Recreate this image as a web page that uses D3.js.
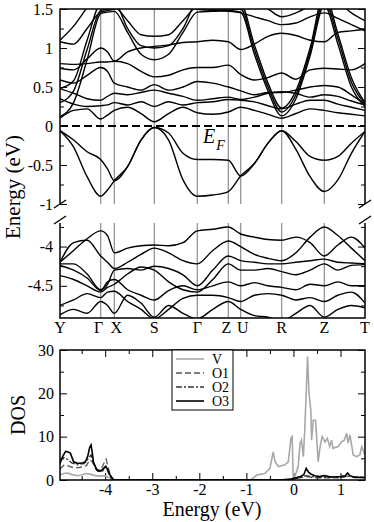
<!DOCTYPE html>
<html>
<head>
<meta charset="utf-8">
<script src="https://cdn.jsdelivr.net/npm/d3@7"></script>
<style>
body { margin: 0; background: #fff; }
svg { display: block; }
svg text { font-family: "Liberation Serif", "Times New Roman", Times, serif; }
</style>
</head>
<body>
<div id="chart"></div>
<script>
const width = 374, height = 522;

// k path (distance along path) and high-symmetry labels
const kLabels = ["Y", "Γ", "X", "S", "Γ", "Z", "U", "R", "Z", "T"];
const kTicks = [0, 40.7, 54.3, 94.3, 137.3, 168.3, 180.7, 221.7, 264.3, 305];
const kGrid = [0, 13.6, 27.1, 40.7, 47.5, 54.3, 67.6, 81.0, 94.3, 108.6, 123.0, 137.3,
               152.8, 168.3, 180.7, 194.4, 208.0, 221.7, 235.9, 250.1, 264.3, 277.9, 291.4, 305.0];

// bands near E_F (eV), one value per kGrid point
const vb1 = [-0.06,-0.18,-0.33,-0.43,-0.55,-0.70,-0.52,-0.18,-0.02,-0.09,-0.35,-0.43,-0.43,-0.44,-0.64,-0.48,-0.22,-0.06,-0.20,-0.39,-0.44,-0.39,-0.22,-0.07];
const vb2 = [-0.06,-0.27,-0.65,-0.90,-0.82,-0.70,-0.52,-0.18,-0.02,-0.18,-0.69,-0.90,-0.885,-0.84,-0.64,-0.48,-0.22,-0.06,-0.30,-0.65,-0.84,-0.69,-0.35,-0.07];
const cb1 = [0.10,0.20,0.22,0.09,0.14,0.20,0.24,0.16,0.055,0.16,0.24,0.17,0.15,0.18,0.24,0.20,0.15,0.10,0.16,0.22,0.20,0.17,0.15,0.13];
const cb2 = [0.35,0.28,0.25,0.26,0.27,0.30,0.27,0.31,0.25,0.31,0.27,0.30,0.31,0.34,0.33,0.31,0.26,0.22,0.28,0.33,0.33,0.28,0.24,0.20];
const cb3 = [0.48,0.42,0.35,0.33,0.38,0.42,0.40,0.43,0.46,0.42,0.38,0.33,0.35,0.37,0.34,0.37,0.42,0.44,0.42,0.37,0.40,0.38,0.32,0.27];
const cb4 = [0.59,0.55,0.65,0.75,0.70,0.55,0.50,0.46,0.53,0.46,0.50,0.57,0.55,0.50,0.45,0.40,0.43,0.43,0.46,0.50,0.52,0.50,0.40,0.28];
const cb5 = [0.80,0.79,0.80,0.82,0.82,0.83,0.80,0.70,0.63,0.65,0.72,0.75,0.75,0.78,0.66,0.59,0.62,0.68,0.60,0.72,0.74,0.73,0.72,0.80];
const cb6 = [0.74,0.72,0.86,1.00,0.95,0.83,0.95,1.00,1.02,1.04,1.07,1.08,1.10,1.08,0.98,1.05,1.15,1.19,1.16,1.10,1.08,1.20,1.22,1.24];
const cb7 = [0.12,0.30,0.85,1.44,1.46,1.47,1.20,0.92,0.85,0.92,1.20,1.46,1.47,1.48,1.46,0.92,0.45,0.13,0.35,0.90,1.55,1.05,0.50,0.25];
const cb8 = [0.30,0.45,0.98,1.48,1.50,1.52,1.35,1.17,1.15,1.17,1.35,1.52,1.50,1.50,1.50,0.98,0.50,0.18,0.40,0.95,1.62,1.12,0.56,0.28];
const cb9 = [0.48,0.58,1.10,1.56,1.56,1.58,1.25,1.03,1.00,1.03,1.25,1.58,1.56,1.56,1.56,1.04,0.55,0.23,0.45,1.00,1.70,1.18,0.62,0.30];
const cb10 = [1.10,1.28,1.52,1.75,1.72,1.70,1.65,1.60,1.58,1.60,1.65,1.70,1.70,1.70,1.68,1.60,1.50,1.40,1.45,1.55,1.75,1.60,1.45,1.35];
const cb11 = [1.08,1.05,1.25,1.46,1.48,1.50,1.55,1.58,1.60,1.58,1.55,1.50,1.48,1.47,1.45,1.40,1.35,1.30,1.32,1.40,1.45,1.38,1.30,1.22];
const upperBands = [vb1, vb2, cb1, cb2, cb3, cb4, cb5, cb6, cb7, cb8, cb9, cb10, cb11];

// deeper bands (eV)
const lb1 = [-4.20,-4.05,-3.90,-3.80,-3.86,-4.08,-4.02,-3.99,-3.98,-3.99,-3.95,-3.80,-3.78,-3.75,-3.84,-3.88,-3.91,-3.92,-3.88,-3.95,-4.12,-3.98,-3.88,-4.02];
const lb2 = [-4.20,-3.95,-3.92,-4.12,-4.20,-4.28,-4.20,-4.10,-4.02,-4.08,-4.18,-4.22,-4.05,-3.93,-4.00,-4.10,-4.15,-4.18,-4.08,-3.88,-3.75,-3.86,-4.02,-4.18];
const lb3 = [-4.22,-4.22,-4.35,-4.55,-4.48,-4.30,-4.28,-4.30,-4.25,-4.28,-4.36,-4.50,-4.30,-4.12,-4.18,-4.20,-4.22,-4.22,-4.20,-4.18,-4.16,-4.20,-4.21,-4.22];
const lb4 = [-4.37,-4.42,-4.50,-4.58,-4.52,-4.48,-4.35,-4.26,-4.30,-4.45,-4.55,-4.58,-4.42,-4.22,-4.30,-4.30,-4.28,-4.32,-4.36,-4.30,-4.22,-4.30,-4.24,-4.23];
const lb5 = [-4.24,-4.30,-4.40,-4.56,-4.45,-4.42,-4.55,-4.62,-4.68,-4.56,-4.50,-4.55,-4.50,-4.45,-4.50,-4.46,-4.50,-4.52,-4.55,-4.48,-4.50,-4.45,-4.50,-4.50];
const lb6 = [-4.75,-4.68,-4.60,-4.65,-4.58,-4.57,-4.70,-4.80,-4.92,-4.80,-4.66,-4.62,-4.62,-4.65,-4.70,-4.62,-4.60,-4.62,-4.68,-4.65,-4.70,-4.62,-4.58,-4.72];
const lb7 = [-4.87,-4.80,-4.85,-4.70,-4.75,-4.85,-4.62,-4.72,-4.90,-4.75,-4.85,-4.92,-4.80,-4.70,-4.80,-4.88,-4.90,-4.95,-4.85,-4.75,-4.90,-4.80,-4.75,-4.78];
const lowerBands = [lb1, lb2, lb3, lb4, lb5, lb6, lb7];

// projected DOS, [energy (eV), states]
const dosV = [[-4.96,1.2],[-4.88,1.5],[-4.8,1.6],[-4.72,1.3],[-4.6,1.0],[-4.5,1.2],[-4.4,1.5],[-4.3,1.3],[-4.2,1.0],[-4.1,0.9],[-4.0,1.0],[-3.92,0.6],[-3.85,0.1],[-3.8,0],
  [-0.92,0],[-0.85,0.5],[-0.78,1.15],[-0.61,1.5],[-0.5,2.7],[-0.43,6.5],[-0.39,4.2],[-0.32,3.1],[-0.18,3.5],[-0.11,4.2],[-0.054,9.6],[-0.027,10],[-0.005,0.3],
  [0.03,0.8],[0.1,3.1],[0.14,8.5],[0.17,9.2],[0.21,5.4],[0.24,11.5],[0.3,28.5],[0.33,20],[0.37,16],[0.385,9.2],[0.42,13.8],[0.47,13.8],[0.525,4.2],[0.56,7.3],
  [0.61,10],[0.67,8.8],[0.72,9.6],[0.77,7.7],[0.81,9.2],[0.84,7.3],[0.95,7.7],[1.02,8.8],[1.08,9.2],[1.13,10.8],[1.16,8.5],[1.2,10.4],[1.27,5.8],[1.34,5.4],
  [1.41,5.8],[1.45,7.7],[1.52,5.8]];
const dosO1 = [[-4.96,2.5],[-4.88,3.4],[-4.8,3.3],[-4.72,3.0],[-4.6,2.8],[-4.5,3.0],[-4.4,3.3],[-4.33,4.6],[-4.28,4.3],[-4.2,2.6],[-4.1,2.2],[-4.03,3.8],[-3.98,4.8],
  [-3.93,2.6],[-3.86,0.3],[-3.8,0],[-0.3,0],[0,0.2],[0.27,0.8],[0.5,0.5],[1.0,0.5],[1.15,0.9],[1.52,0.5]];
const dosO2 = [[-4.96,4.4],[-4.88,5.2],[-4.8,4.8],[-4.72,4.0],[-4.6,3.5],[-4.45,3.8],[-4.35,5.0],[-4.3,5.8],[-4.25,3.8],[-4.15,2.0],[-4.05,2.1],[-3.99,3.4],
  [-3.93,1.6],[-3.85,0.1],[-3.8,0],[-0.3,0],[0,0.2],[0.27,1.0],[0.5,0.6],[1.0,0.6],[1.15,0.9],[1.52,0.5]];
const dosO3 = [[-4.96,3.8],[-4.9,5.5],[-4.84,6.6],[-4.8,6.5],[-4.74,6.2],[-4.67,4.2],[-4.6,3.9],[-4.53,3.85],[-4.47,4.0],[-4.42,4.2],[-4.37,5.5],[-4.33,7.5],
  [-4.3,8.1],[-4.27,6.0],[-4.25,4.2],[-4.18,2.3],[-4.12,2.0],[-4.07,2.3],[-4.0,3.1],[-3.95,2.5],[-3.9,1.2],[-3.82,0],[-0.3,0],[-0.05,0.2],[0.05,0.5],[0.15,0.8],
  [0.22,1.2],[0.27,2.7],[0.32,1.8],[0.37,1.4],[0.45,1.0],[0.55,0.8],[0.65,1.0],[0.8,0.7],[1.0,0.8],[1.1,1.0],[1.15,1.6],[1.2,1.0],[1.3,0.6],[1.52,0.6]];
const dosNames = ["V", "O1", "O2", "O3"];
const dosSeries = [dosV, dosO1, dosO2, dosO3];

const svg = d3.select("#chart").append("svg")
    .attr("width", width)
    .attr("height", height)
    .attr("viewBox", [0, 0, width, height]);

// scales
const x = d3.scaleLinear().domain([0, 305]).range([60, 365]);
const yUp = d3.scaleLinear().domain([-1, 1.5]).range([204, 9]);
const yLo = d3.scaleLinear().domain([-4.91, -3.70]).range([318, 223]);
const xD = d3.scaleLinear().domain([-4.96, 1.52]).range([60, 365]);
const yD = d3.scaleLinear().domain([0, 30]).range([480, 350]);

// clip rects for the panels
const defs = svg.append("defs");
defs.append("clipPath").attr("id", "clipUp").append("rect")
    .attr("x", 60).attr("y", 9).attr("width", 305).attr("height", 195);
defs.append("clipPath").attr("id", "clipLo").append("rect")
    .attr("x", 60).attr("y", 223).attr("width", 305).attr("height", 95);
defs.append("clipPath").attr("id", "clipD").append("rect")
    .attr("x", 60).attr("y", 350).attr("width", 305).attr("height", 130);

function tickAxis(g, axis, size, vals, labels, pad) {
    g.call(axis.tickValues(vals).tickSize(size).tickPadding(pad || 6)
        .tickFormat(labels ? d => String(d) : ""));
    g.select(".domain").remove();
    g.attr("font-family", null);
    g.selectAll(".tick line").attr("stroke", "#000").attr("stroke-width", 1);
    g.selectAll("text").attr("font-size", 16).attr("fill", "#000");
}

// ---- band panels ----
function bandPanel(y, bands, clipId, major, minor, top, bottom) {
    const g = svg.append("g");
    // high symmetry lines
    g.append("g").selectAll("line")
        .data(kTicks.slice(1, -1))
        .join("line")
        .attr("x1", d => x(d)).attr("x2", d => x(d))
        .attr("y1", top).attr("y2", bottom)
        .attr("stroke", "#8c8c8c").attr("stroke-width", 1.2);

    const line = d3.line()
        .x((d, i) => x(kGrid[i]))
        .y(d => y(d))
        .curve(d3.curveMonotoneX);
    g.append("g").attr("clip-path", `url(#${clipId})`)
        .selectAll("path")
        .data(bands)
        .join("path")
        .attr("d", line)
        .attr("fill", "none")
        .attr("stroke", "#000")
        .attr("stroke-width", 1.4);

    tickAxis(g.append("g").attr("transform", "translate(60,0)"), d3.axisLeft(y), -7, major, true, 7);
    tickAxis(g.append("g").attr("transform", "translate(60,0)"), d3.axisLeft(y), -4, minor, false);
    tickAxis(g.append("g").attr("transform", "translate(365,0)"), d3.axisRight(y), -7, major, false);
    tickAxis(g.append("g").attr("transform", "translate(365,0)"), d3.axisRight(y), -4, minor, false);
    return g;
}

const up = bandPanel(yUp, upperBands, "clipUp", [-1, -0.5, 0, 0.5, 1, 1.5], [-0.75, -0.25, 0.25, 0.75, 1.25], 9, 204);
const lo = bandPanel(yLo, lowerBands, "clipLo", [-4.5, -4], [-4.75, -4.25, -3.75], 223, 318);

// Fermi level
up.append("line")
    .attr("x1", 60).attr("x2", 365)
    .attr("y1", yUp(0)).attr("y2", yUp(0))
    .attr("stroke", "#000").attr("stroke-width", 2)
    .attr("stroke-dasharray", "8,4");
const ef = up.append("text").attr("x", 203).attr("y", 143)
    .attr("font-size", 20).attr("font-style", "italic").text("E");
ef.append("tspan").attr("dx", 1).attr("dy", 7).attr("font-size", 14).text("F");

// frames
svg.append("path")
    .attr("d", `M60,204V9H365V204M60,223V318H365V223`)
    .attr("fill", "none").attr("stroke", "#000").attr("stroke-width", 1.5);

// axis break marks
svg.append("g").selectAll("line")
    .data([[60, 204], [60, 220], [365, 204], [365, 220]])
    .join("line")
    .attr("x1", d => d[0] - 6).attr("y1", d => d[1] + 4)
    .attr("x2", d => d[0] + 6).attr("y2", d => d[1] - 4)
    .attr("stroke", "#000").attr("stroke-width", 1.3);

// k labels
svg.append("g").selectAll("text")
    .data(kTicks)
    .join("text")
    .attr("x", d => x(d) + (d === 40.7 || d === 168.3 ? -2 : d === 54.3 || d === 180.7 ? 2 : 0))
    .attr("y", 333)
    .attr("text-anchor", "middle")
    .attr("font-size", 16)
    .text((d, i) => kLabels[i]);

svg.append("text")
    .attr("transform", "translate(20,187) rotate(-90)")
    .attr("text-anchor", "middle")
    .attr("font-size", 21)
    .text("Energy (eV)");

// ---- DOS panel ----
const gd = svg.append("g");
const xMajor = [-4, -3, -2, -1, 0, 1], xMinor = [-4.5, -3.5, -2.5, -1.5, -0.5, 0.5];
tickAxis(gd.append("g").attr("transform", "translate(0,480)"), d3.axisBottom(xD), -7, xMajor, true, 4);
tickAxis(gd.append("g").attr("transform", "translate(0,480)"), d3.axisBottom(xD), -4, xMinor, false);
tickAxis(gd.append("g").attr("transform", "translate(0,350)"), d3.axisTop(xD), -7, xMajor, false);
tickAxis(gd.append("g").attr("transform", "translate(0,350)"), d3.axisTop(xD), -4, xMinor, false);
tickAxis(gd.append("g").attr("transform", "translate(60,0)"), d3.axisLeft(yD), -7, [0, 10, 20, 30], true, 6);
tickAxis(gd.append("g").attr("transform", "translate(60,0)"), d3.axisLeft(yD), -4, [5, 15, 25], false);
tickAxis(gd.append("g").attr("transform", "translate(365,0)"), d3.axisRight(yD), -7, [0, 10, 20, 30], false);
tickAxis(gd.append("g").attr("transform", "translate(365,0)"), d3.axisRight(yD), -4, [5, 15, 25], false);

const dosStyle = [
    {color: "#a8a8a8", dash: null, w: 1.6},
    {color: "#555", dash: "6,3", w: 1.3},
    {color: "#333", dash: "6,2,2,2", w: 1.3},
    {color: "#000", dash: null, w: 1.6}
];
const dline = d3.line().x(d => xD(d[0])).y(d => yD(d[1]));
gd.append("g").attr("clip-path", "url(#clipD)")
    .selectAll("path")
    .data(dosSeries)
    .join("path")
    .attr("d", dline)
    .attr("fill", "none")
    .attr("stroke", (d, i) => dosStyle[i].color)
    .attr("stroke-width", (d, i) => dosStyle[i].w)
    .attr("stroke-dasharray", (d, i) => dosStyle[i].dash);

gd.append("rect")
    .attr("x", 60).attr("y", 350).attr("width", 305).attr("height", 130)
    .attr("fill", "none").attr("stroke", "#000").attr("stroke-width", 1.5);

// legend
const leg = gd.append("g");
leg.append("rect")
    .attr("x", 172).attr("y", 350).attr("width", 61).attr("height", 60)
    .attr("fill", "#fff").attr("stroke", "#000").attr("stroke-width", 1);
const items = leg.selectAll("g.item")
    .data(dosNames)
    .join("g")
    .attr("transform", (d, i) => `translate(0,${359 + i * 14})`);
items.append("line")
    .attr("x1", 176).attr("x2", 204)
    .attr("stroke", (d, i) => dosStyle[i].color)
    .attr("stroke-width", (d, i) => dosStyle[i].w)
    .attr("stroke-dasharray", (d, i) => dosStyle[i].dash);
items.append("text")
    .attr("x", 212).attr("y", 5)
    .attr("font-size", 14)
    .text(d => d);

svg.append("text")
    .attr("transform", "translate(25,415) rotate(-90)")
    .attr("text-anchor", "middle")
    .attr("font-size", 20)
    .text("DOS");
svg.append("text")
    .attr("x", 212).attr("y", 516)
    .attr("text-anchor", "middle")
    .attr("font-size", 20)
    .text("Energy (eV)");
</script>
</body>
</html>
